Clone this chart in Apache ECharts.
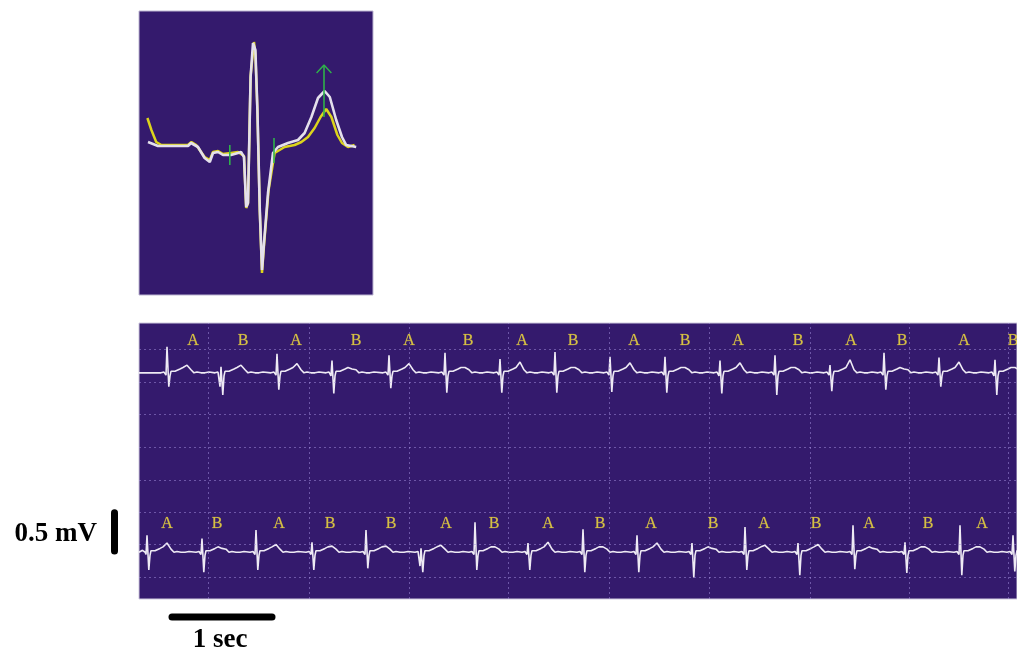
<!DOCTYPE html>
<html>
<head>
<meta charset="utf-8">
<script src="https://cdn.jsdelivr.net/npm/echarts@6/dist/echarts.min.js"></script>
<style>
  html, body { margin: 0; padding: 0; background: #ffffff; }
  #chart { width: 1017px; height: 652px; }
</style>
</head>
<body>
<div id="chart"></div>
<script>
// ---- Averaged beat (white) and current beat (yellow): [time ms, amplitude mV]
const averagedBeat = [
  [22.5, 0.04], [47.5, 0.00], [122.5, 0.00], [130, 0.03], [147.5, -0.01], [164, -0.12],
  [177, -0.16], [185, -0.07], [197.5, -0.06], [210, -0.09], [230, -0.09], [247.5, -0.07],
  [255, -0.06], [262.5, -0.11], [268, -0.61], [272.5, -0.57], [279, 0.69], [285, 1.03],
  [291, 0.96], [296, 0.36], [302, -0.64], [307.5, -1.24], [312.5, -0.97], [322.5, -0.47],
  [335, -0.07], [347.5, -0.01], [372.5, 0.03], [397.5, 0.06], [414, 0.13], [431, 0.29],
  [447.5, 0.48], [464, 0.55], [477, 0.49], [493, 0.26], [507.5, 0.09], [518, 0.01], [543, -0.01]
];
const currentBeat = [
  [21, 0.28], [31, 0.16], [43, 0.04], [56, 0.01], [122.5, 0.01], [131, 0.04], [143, 0.01],
  [164, -0.11], [177, -0.14], [185, -0.06], [197.5, -0.05], [210, -0.08], [230, -0.07],
  [247.5, -0.06], [262.5, -0.10], [268, -0.62], [272.5, -0.57], [279, 0.70], [287.5, 1.04],
  [291, 0.91], [296, 0.36], [302, -0.66], [307.5, -1.27], [313, -0.97], [324, -0.44],
  [339, -0.07], [364, -0.01], [389, 0.01], [406, 0.04], [422.5, 0.09], [439, 0.18],
  [454, 0.29], [468, 0.37], [481, 0.29], [496, 0.11], [507.5, 0.03], [522.5, -0.01], [539, 0.01]
];
// QRS onset / offset ticks and T-peak arrow (ms, mV)
const fiducialTicks = [[227, 0.01, -0.19], [337.5, 0.08, -0.17]];
const tPeakArrow = { time: 462.5, from: 0.29, to: 0.81, wingTime: 18.5, wingDrop: 0.08 };

// ---- Rhythm strips: R-wave times (s) and per-beat amplitudes (mV)
const topBeatTimes = [0.28, 0.82, 1.38, 1.93, 2.50, 3.06, 3.61, 4.16, 4.71, 5.26, 5.81, 6.36, 6.91, 7.45, 8.00, 8.56];
const topQ = [-0.03, -0.18, -0.03, -0.04, -0.03, -0.03, -0.03, -0.03, -0.03, -0.03, -0.04, -0.03, -0.03, -0.03, -0.03, -0.04];
const topR = [0.34, 0.08, 0.25, 0.16, 0.23, 0.26, 0.18, 0.27, 0.21, 0.21, 0.16, 0.23, 0.10, 0.26, 0.20, 0.17];
const topS = [-0.18, -0.29, -0.22, -0.27, -0.20, -0.26, -0.26, -0.26, -0.25, -0.26, -0.27, -0.29, -0.24, -0.22, -0.18, -0.29];
const topT = [0.10, 0.10, 0.12, 0.05, 0.12, 0.07, 0.14, 0.07, 0.13, 0.07, 0.13, 0.07, 0.17, 0.05, 0.14, 0.07];

const bottomBeatTimes = [0.08, 0.63, 1.17, 1.73, 2.27, 2.82, 3.36, 3.89, 4.44, 4.98, 5.53, 6.06, 6.59, 7.14, 7.66, 8.21, 8.74];
const bottomQ = [-0.03, -0.03, -0.03, -0.03, -0.03, -0.18, -0.03, -0.03, -0.03, -0.03, -0.03, -0.03, -0.03, -0.03, -0.03, -0.03, -0.03];
const bottomR = [0.22, 0.18, 0.29, 0.13, 0.29, 0.05, 0.39, 0.12, 0.30, 0.22, 0.12, 0.33, 0.12, 0.35, 0.13, 0.35, 0.22];
const bottomS = [-0.23, -0.26, -0.23, -0.23, -0.21, -0.26, -0.23, -0.23, -0.26, -0.26, -0.33, -0.23, -0.30, -0.22, -0.27, -0.30, -0.25];
const bottomT = [0.12, 0.05, 0.10, 0.08, 0.08, 0.09, 0.07, 0.13, 0.07, 0.12, 0.05, 0.09, 0.10, 0.05, 0.07, 0.07, 0.07];

// Complex outline around each R wave: [offset s, mV or per-beat key]
const beatOutline = [
  [-0.06, 0.00], [-0.045, 0.025], [-0.03, 0.01], [-0.018, 0.00], [-0.01, 'Q'], [0, 'R'],
  [0.018, 'S'], [0.03, -0.04], [0.04, 0.02], [0.06, 0.03], [0.08, 0.02], [0.10, 0.04],
  [0.13, 0.05], [0.16, 0.07], [0.20, 'T'], [0.24, 0.04], [0.27, 0.00], [0.30, 0.01],
  [0.32, -0.01], [0.34, 0.00], [0.36, 0.02], [0.38, 0.00], [0.40, -0.01], [0.42, 0.01], [0.44, 0.00]
];

// T-wave alternans labels
const topLabels = ['A', 'B', 'A', 'B', 'A', 'B', 'A', 'B', 'A', 'B', 'A', 'B', 'A', 'B', 'A', 'B'];
const topLabelTimes = [0.54, 1.04, 1.57, 2.17, 2.70, 3.29, 3.83, 4.34, 4.95, 5.46, 5.99, 6.59, 7.12, 7.63, 8.25, 8.74];
const bottomLabels = ['A', 'B', 'A', 'B', 'B', 'A', 'B', 'A', 'B', 'A', 'B', 'A', 'B', 'A', 'B', 'A'];
const bottomLabelTimes = [0.28, 0.78, 1.40, 1.91, 2.52, 3.07, 3.55, 4.09, 4.61, 5.12, 5.74, 6.25, 6.77, 7.30, 7.89, 8.43];

// Paper grid (s and mV on the strip axes)
const gridSeconds = [0.69, 1.70, 2.70, 3.69, 4.70, 5.70, 6.71, 7.70, 8.69];
const gridMillivolts = [0.29, 0.71, 1.13, 1.55, 1.98, 2.41, 2.83, 3.26];

// Strip layout on the shared mV axis
const TOP_BASELINE = 2.95;
const BOTTOM_BASELINE = 0.61;
const TOP_LABEL_LEVEL = 3.37;
const BOTTOM_LABEL_LEVEL = 0.98;
// Calibration bars (strip axis units: s and mV)
const TIME_BAR = { start: 0.33, span: 1, level: -0.235 };
const VOLT_BAR = { time: -0.245, start: 0.625, span: 0.5 };

const PANEL_BG = '#341a6d';
const TRACE = '#eeeaf4';
const LABEL_YELLOW = '#fbe63a';
const GRID_LINE = 'rgba(165,145,225,0.5)';
const SCALE_FONT = 'bold 27px "Liberation Serif", "Times New Roman", serif';

function buildStrip(times, q, r, s, t, baseline) {
  const keyed = { Q: q, R: r, S: s, T: t };
  const pts = [[0, baseline]];
  times.forEach((bt, i) => {
    beatOutline.forEach(([dt, v]) => {
      const val = typeof v === 'string' ? keyed[v][i] : v;
      pts.push([+(bt + dt).toFixed(3), +(baseline + val).toFixed(3)]);
    });
  });
  return pts;
}

function labelSeries(times, labels, level) {
  return {
    type: 'scatter', xAxisIndex: 1, yAxisIndex: 1, symbolSize: 1,
    itemStyle: { color: 'rgba(0,0,0,0)' }, silent: true, z: 6,
    data: times.map((tm, i) => ({ value: [tm, level], name: labels[i] })),
    label: {
      show: true, position: 'inside', formatter: p => p.name,
      color: LABEL_YELLOW, fontFamily: '"Liberation Serif", serif', fontSize: 16,
      textBorderColor: 'rgba(251,230,58,0.35)', textBorderWidth: 0.6
    }
  };
}

const chart = echarts.init(document.getElementById('chart'), null, { renderer: 'canvas' });

const option = {
  animation: false,
  backgroundColor: '#ffffff',
  grid: [
    { left: 139, top: 11, width: 234, height: 284, show: true, backgroundColor: PANEL_BG,
      borderColor: '#bdb6d2', borderWidth: 1 },
    { left: 139, top: 323, width: 878, height: 276, show: true, backgroundColor: PANEL_BG,
      borderColor: '#cfc9df', borderWidth: 1 }
  ],
  xAxis: [
    { gridIndex: 0, type: 'value', min: 0, max: 585, show: false },
    { gridIndex: 1, type: 'value', min: 0, max: 8.78, show: false }
  ],
  yAxis: [
    { gridIndex: 0, type: 'value', min: -1.49, max: 1.35, show: false },
    { gridIndex: 1, type: 'value', min: 0, max: 3.6, show: false }
  ],
  series: [
    // paper grid
    {
      type: 'line', xAxisIndex: 1, yAxisIndex: 1, data: [], z: 1, silent: true,
      markLine: {
        silent: true, symbol: ['none', 'none'], label: { show: false }, animation: false,
        lineStyle: { color: GRID_LINE, type: [2, 3], width: 1 },
        data: gridSeconds.map(v => ({ xAxis: v })).concat(gridMillivolts.map(v => ({ yAxis: v })))
      }
    },
    // rhythm strips
    {
      type: 'line', xAxisIndex: 1, yAxisIndex: 1, z: 4, showSymbol: false, silent: true,
      data: buildStrip(topBeatTimes, topQ, topR, topS, topT, TOP_BASELINE),
      lineStyle: { color: TRACE, width: 1.6 }
    },
    {
      type: 'line', xAxisIndex: 1, yAxisIndex: 1, z: 4, showSymbol: false, silent: true,
      data: buildStrip(bottomBeatTimes, bottomQ, bottomR, bottomS, bottomT, BOTTOM_BASELINE),
      lineStyle: { color: TRACE, width: 1.6 }
    },
    labelSeries(topLabelTimes, topLabels, TOP_LABEL_LEVEL),
    labelSeries(bottomLabelTimes, bottomLabels, BOTTOM_LABEL_LEVEL),
    // averaged and current complexes
    {
      type: 'line', xAxisIndex: 0, yAxisIndex: 0, z: 3, showSymbol: false, silent: true,
      data: currentBeat, lineStyle: { color: '#dcd41c', width: 2.5 }
    },
    {
      type: 'line', xAxisIndex: 0, yAxisIndex: 0, z: 4, showSymbol: false, silent: true,
      data: averagedBeat, lineStyle: { color: '#e4e0ec', width: 2.6 }
    },
    ...fiducialTicks.map(([tm, hi, lo]) => ({
      type: 'line', xAxisIndex: 0, yAxisIndex: 0, z: 5, showSymbol: false, silent: true,
      data: [[tm, hi], [tm, lo]], lineStyle: { color: '#2fb24a', width: 1.6 }
    })),
    {
      type: 'line', xAxisIndex: 0, yAxisIndex: 0, z: 5, showSymbol: false, silent: true,
      data: [[tPeakArrow.time, tPeakArrow.from], [tPeakArrow.time, tPeakArrow.to]],
      lineStyle: { color: '#2fb24a', width: 1.6 }
    },
    {
      type: 'line', xAxisIndex: 0, yAxisIndex: 0, z: 5, showSymbol: false, silent: true,
      data: [
        [tPeakArrow.time - tPeakArrow.wingTime, tPeakArrow.to - tPeakArrow.wingDrop],
        [tPeakArrow.time, tPeakArrow.to],
        [tPeakArrow.time + tPeakArrow.wingTime, tPeakArrow.to - tPeakArrow.wingDrop]
      ],
      lineStyle: { color: '#2fb24a', width: 1.4 }
    }
  ]
};

chart.setOption(option);

// Calibration bars and their captions, placed through the strip axes
const stripPx = v => chart.convertToPixel({ xAxisIndex: 1, yAxisIndex: 1 }, v);
const tb0 = stripPx([TIME_BAR.start, TIME_BAR.level]);
const tb1 = stripPx([TIME_BAR.start + TIME_BAR.span, TIME_BAR.level]);
const vb0 = stripPx([VOLT_BAR.time, VOLT_BAR.start]);
const vb1 = stripPx([VOLT_BAR.time, VOLT_BAR.start + VOLT_BAR.span]);

chart.setOption({
  graphic: [
    { type: 'line', z: 10, silent: true,
      shape: { x1: tb0[0], y1: tb0[1], x2: tb1[0], y2: tb1[1] },
      style: { stroke: '#000', lineWidth: 7, lineCap: 'round' } },
    { type: 'line', z: 10, silent: true,
      shape: { x1: vb0[0], y1: vb0[1], x2: vb1[0], y2: vb1[1] },
      style: { stroke: '#000', lineWidth: 7, lineCap: 'round' } },
    { type: 'text', z: 10, silent: true,
      x: (tb0[0] + tb1[0]) / 2 - 2, y: 640,
      style: { text: '1 sec', fill: '#000', font: SCALE_FONT, align: 'center', verticalAlign: 'middle' } },
    { type: 'text', z: 10, silent: true,
      x: 97, y: (vb0[1] + vb1[1]) / 2 + 2,
      style: { text: '0.5 mV', fill: '#000', font: SCALE_FONT, align: 'right', verticalAlign: 'middle' } }
  ]
});
</script>
</body>
</html>
